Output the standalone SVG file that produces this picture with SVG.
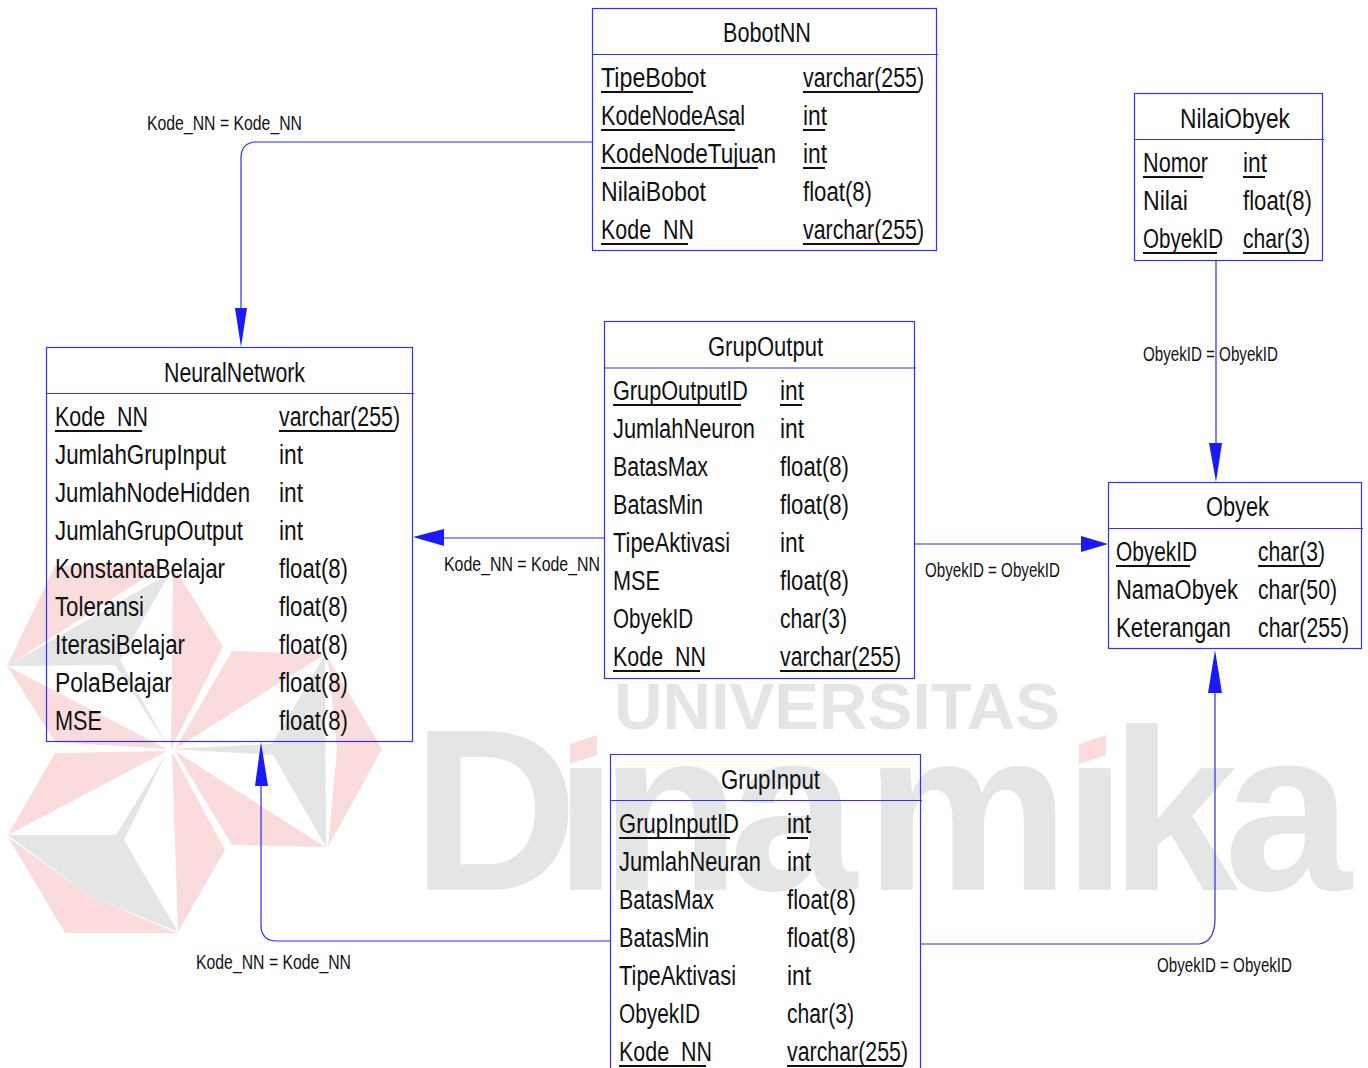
<svg xmlns="http://www.w3.org/2000/svg" width="1368" height="1068" viewBox="0 0 1368 1068">
<style>
text{font-family:"Liberation Sans",Arial,sans-serif;fill:#111}
.t{font-size:27px}
.l{font-size:21px}
.b{fill:none;stroke:#3030ff;stroke-width:1.2}
.u{stroke:#111;stroke-width:2}
.c{fill:none;stroke:#2a2aff;stroke-width:1.2}
.a{fill:#1a1aff;stroke:none}
.p{fill:#fadcdc}
.g{fill:#e4e5e5}
.w{font-family:"Liberation Sans",Arial,sans-serif;font-weight:700;fill:#e4e5e5}
</style>
<defs>
<clipPath id="nodot"><path clip-rule="evenodd" d="M0 0H1368V1068H0ZM560 700H606V766H560ZM1069 700H1115V766H1069Z"/></clipPath>
</defs>
<rect width="1368" height="1068" fill="#fff"/>
<g id="watermark">
<polygon class="p" points="7,666 55,566 165,565"/>
<polygon class="g" points="7,666 170,573 120,660 168,747 115,665"/>
<polygon class="p" points="173,565 223,647 171,749 172,660"/>
<polygon class="p" points="7,666 55,742 167,749"/>
<polygon class="p" points="232,651 325,654 175,749"/>
<polygon class="g" points="325,655 326,847 273,755 171,749 272,744"/>
<polygon class="p" points="328,658 382,749 328,847 337,750"/>
<polygon class="p" points="175,751 325,847 232,845"/>
<polygon class="p" points="55,753 167,751 8,835"/>
<polygon class="g" points="8,835 116,835 167,752 124,840 178,932 88,895"/>
<polygon class="p" points="8,837 88,895 177,933 65,933"/>
<polygon class="p" points="172,752 225,850 178,932"/>
<text class="w" x="614" y="729" font-size="65" textLength="446" lengthAdjust="spacingAndGlyphs">UNIVERSITAS</text>
<text class="w" clip-path="url(#nodot)" y="890" font-size="230" x="412 554 600 729 865 1063 1110 1224">Dinamika</text>
<polygon class="p" points="570,744 597,735 597,755 570,764"/>
<polygon class="p" points="1079,744 1106,735 1106,755 1079,764"/>
</g>
<g id="connectors">
<path class="c" d="M592 142H257Q241 142 241 158V320"/><polygon class="a" points="241,347 235,308 247,308"/>
<path class="c" d="M604 538H440"/><polygon class="a" points="413,537 444,529 444,546"/>
<path class="c" d="M915 544H1085"/><polygon class="a" points="1108,544 1081,536 1081,552"/>
<path class="c" d="M1216 260V450"/><polygon class="a" points="1216,482 1209,443 1222,443"/>
<path class="c" d="M610 941H277Q261 941 261 925V780"/><polygon class="a" points="261,742 255,786 268,786"/>
<path class="c" d="M920 944H1199Q1215 942 1215 918V690"/><polygon class="a" points="1215,650 1208,693 1222,693"/>
<text class="l" x="147" y="130" textLength="155" lengthAdjust="spacingAndGlyphs">Kode_NN = Kode_NN</text>
<text class="l" x="1143" y="361" textLength="135" lengthAdjust="spacingAndGlyphs">ObyekID = ObyekID</text>
<text class="l" x="444" y="571" textLength="156" lengthAdjust="spacingAndGlyphs">Kode_NN = Kode_NN</text>
<text class="l" x="925" y="577" textLength="135" lengthAdjust="spacingAndGlyphs">ObyekID = ObyekID</text>
<text class="l" x="196" y="969" textLength="155" lengthAdjust="spacingAndGlyphs">Kode_NN = Kode_NN</text>
<text class="l" x="1157" y="972" textLength="135" lengthAdjust="spacingAndGlyphs">ObyekID = ObyekID</text>
</g>
<g id="BobotNN">
<rect class="b" x="592.5" y="8.5" width="344" height="242"/><path class="b" d="M592 54.5H938"/>
<text class="t" x="723" y="42" textLength="88" lengthAdjust="spacingAndGlyphs">BobotNN</text>
<text class="t" x="601" y="87" textLength="105" lengthAdjust="spacingAndGlyphs">TipeBobot</text><text class="t" x="803" y="87" textLength="121" lengthAdjust="spacingAndGlyphs">varchar(255)</text>
<text class="t" x="601" y="125" textLength="144" lengthAdjust="spacingAndGlyphs">KodeNodeAsal</text><text class="t" x="803" y="125" textLength="24" lengthAdjust="spacingAndGlyphs">int</text>
<text class="t" x="601" y="163" textLength="175" lengthAdjust="spacingAndGlyphs">KodeNodeTujuan</text><text class="t" x="803" y="163" textLength="24" lengthAdjust="spacingAndGlyphs">int</text>
<text class="t" x="601" y="201" textLength="105" lengthAdjust="spacingAndGlyphs">NilaiBobot</text><text class="t" x="803" y="201" textLength="69" lengthAdjust="spacingAndGlyphs">float(8)</text>
<text class="t" x="601" y="239" textLength="93" lengthAdjust="spacingAndGlyphs">Kode_NN</text><text class="t" x="803" y="239" textLength="121" lengthAdjust="spacingAndGlyphs">varchar(255)</text>
<path class="u" d="M601 92H693M803 92H918M601 130H735M803 130H825M601 168H758M803 168H825M601 244H688M803 244H918"/>
</g>
<g id="NeuralNetwork">
<rect class="b" x="46.5" y="347.5" width="366" height="394"/><path class="b" d="M46 393.5H414"/>
<text class="t" x="164" y="382" textLength="141" lengthAdjust="spacingAndGlyphs">NeuralNetwork</text>
<text class="t" x="55" y="426" textLength="93" lengthAdjust="spacingAndGlyphs">Kode_NN</text><text class="t" x="279" y="426" textLength="121" lengthAdjust="spacingAndGlyphs">varchar(255)</text>
<text class="t" x="55" y="464" textLength="171" lengthAdjust="spacingAndGlyphs">JumlahGrupInput</text><text class="t" x="279" y="464" textLength="24" lengthAdjust="spacingAndGlyphs">int</text>
<text class="t" x="55" y="502" textLength="195" lengthAdjust="spacingAndGlyphs">JumlahNodeHidden</text><text class="t" x="279" y="502" textLength="24" lengthAdjust="spacingAndGlyphs">int</text>
<text class="t" x="55" y="540" textLength="188" lengthAdjust="spacingAndGlyphs">JumlahGrupOutput</text><text class="t" x="279" y="540" textLength="24" lengthAdjust="spacingAndGlyphs">int</text>
<text class="t" x="55" y="578" textLength="170" lengthAdjust="spacingAndGlyphs">KonstantaBelajar</text><text class="t" x="279" y="578" textLength="69" lengthAdjust="spacingAndGlyphs">float(8)</text>
<text class="t" x="55" y="616" textLength="89" lengthAdjust="spacingAndGlyphs">Toleransi</text><text class="t" x="279" y="616" textLength="69" lengthAdjust="spacingAndGlyphs">float(8)</text>
<text class="t" x="55" y="654" textLength="130" lengthAdjust="spacingAndGlyphs">IterasiBelajar</text><text class="t" x="279" y="654" textLength="69" lengthAdjust="spacingAndGlyphs">float(8)</text>
<text class="t" x="55" y="692" textLength="117" lengthAdjust="spacingAndGlyphs">PolaBelajar</text><text class="t" x="279" y="692" textLength="69" lengthAdjust="spacingAndGlyphs">float(8)</text>
<text class="t" x="55" y="730" textLength="47" lengthAdjust="spacingAndGlyphs">MSE</text><text class="t" x="279" y="730" textLength="69" lengthAdjust="spacingAndGlyphs">float(8)</text>
<path class="u" d="M55 431H142M279 431H394"/>
</g>
<g id="GrupOutput">
<rect class="b" x="604.5" y="321.5" width="310" height="357"/><path class="b" d="M604 368H916"/>
<text class="t" x="708" y="356" textLength="115" lengthAdjust="spacingAndGlyphs">GrupOutput</text>
<text class="t" x="613" y="400" textLength="135" lengthAdjust="spacingAndGlyphs">GrupOutputID</text><text class="t" x="780" y="400" textLength="24" lengthAdjust="spacingAndGlyphs">int</text>
<text class="t" x="613" y="438" textLength="142" lengthAdjust="spacingAndGlyphs">JumlahNeuron</text><text class="t" x="780" y="438" textLength="24" lengthAdjust="spacingAndGlyphs">int</text>
<text class="t" x="613" y="476" textLength="95" lengthAdjust="spacingAndGlyphs">BatasMax</text><text class="t" x="780" y="476" textLength="69" lengthAdjust="spacingAndGlyphs">float(8)</text>
<text class="t" x="613" y="514" textLength="90" lengthAdjust="spacingAndGlyphs">BatasMin</text><text class="t" x="780" y="514" textLength="69" lengthAdjust="spacingAndGlyphs">float(8)</text>
<text class="t" x="613" y="552" textLength="117" lengthAdjust="spacingAndGlyphs">TipeAktivasi</text><text class="t" x="780" y="552" textLength="24" lengthAdjust="spacingAndGlyphs">int</text>
<text class="t" x="613" y="590" textLength="47" lengthAdjust="spacingAndGlyphs">MSE</text><text class="t" x="780" y="590" textLength="69" lengthAdjust="spacingAndGlyphs">float(8)</text>
<text class="t" x="613" y="628" textLength="80" lengthAdjust="spacingAndGlyphs">ObyekID</text><text class="t" x="780" y="628" textLength="67" lengthAdjust="spacingAndGlyphs">char(3)</text>
<text class="t" x="613" y="666" textLength="93" lengthAdjust="spacingAndGlyphs">Kode_NN</text><text class="t" x="780" y="666" textLength="121" lengthAdjust="spacingAndGlyphs">varchar(255)</text>
<path class="u" d="M613 405H741M780 405H802M613 671H700M780 671H895"/>
</g>
<g id="NilaiObyek">
<rect class="b" x="1134.5" y="93.5" width="188" height="167"/><path class="b" d="M1134 139.5H1324"/>
<text class="t" x="1180" y="128" textLength="110" lengthAdjust="spacingAndGlyphs">NilaiObyek</text>
<text class="t" x="1143" y="172" textLength="65" lengthAdjust="spacingAndGlyphs">Nomor</text><text class="t" x="1243" y="172" textLength="24" lengthAdjust="spacingAndGlyphs">int</text>
<text class="t" x="1143" y="210" textLength="45" lengthAdjust="spacingAndGlyphs">Nilai</text><text class="t" x="1243" y="210" textLength="69" lengthAdjust="spacingAndGlyphs">float(8)</text>
<text class="t" x="1143" y="248" textLength="80" lengthAdjust="spacingAndGlyphs">ObyekID</text><text class="t" x="1243" y="248" textLength="67" lengthAdjust="spacingAndGlyphs">char(3)</text>
<path class="u" d="M1143 177H1203M1243 177H1265M1143 253H1217M1243 253H1305"/>
</g>
<g id="Obyek">
<rect class="b" x="1108.5" y="482.5" width="253" height="166"/><path class="b" d="M1108 528.5H1363"/>
<text class="t" x="1206" y="516" textLength="63" lengthAdjust="spacingAndGlyphs">Obyek</text>
<text class="t" x="1116" y="561" textLength="81" lengthAdjust="spacingAndGlyphs">ObyekID</text><text class="t" x="1258" y="561" textLength="67" lengthAdjust="spacingAndGlyphs">char(3)</text>
<text class="t" x="1116" y="599" textLength="122" lengthAdjust="spacingAndGlyphs">NamaObyek</text><text class="t" x="1258" y="599" textLength="79" lengthAdjust="spacingAndGlyphs">char(50)</text>
<text class="t" x="1116" y="637" textLength="115" lengthAdjust="spacingAndGlyphs">Keterangan</text><text class="t" x="1258" y="637" textLength="91" lengthAdjust="spacingAndGlyphs">char(255)</text>
<path class="u" d="M1116 566H1190M1258 566H1320"/>
</g>
<g id="GrupInput">
<path class="b" d="M610.5 1068V754.5H920.5V1068M610 800.5H922"/>
<text class="t" x="721" y="789" textLength="99" lengthAdjust="spacingAndGlyphs">GrupInput</text>
<text class="t" x="619" y="833" textLength="120" lengthAdjust="spacingAndGlyphs">GrupInputID</text><text class="t" x="787" y="833" textLength="24" lengthAdjust="spacingAndGlyphs">int</text>
<text class="t" x="619" y="871" textLength="142" lengthAdjust="spacingAndGlyphs">JumlahNeuran</text><text class="t" x="787" y="871" textLength="24" lengthAdjust="spacingAndGlyphs">int</text>
<text class="t" x="619" y="909" textLength="95" lengthAdjust="spacingAndGlyphs">BatasMax</text><text class="t" x="787" y="909" textLength="69" lengthAdjust="spacingAndGlyphs">float(8)</text>
<text class="t" x="619" y="947" textLength="90" lengthAdjust="spacingAndGlyphs">BatasMin</text><text class="t" x="787" y="947" textLength="69" lengthAdjust="spacingAndGlyphs">float(8)</text>
<text class="t" x="619" y="985" textLength="117" lengthAdjust="spacingAndGlyphs">TipeAktivasi</text><text class="t" x="787" y="985" textLength="24" lengthAdjust="spacingAndGlyphs">int</text>
<text class="t" x="619" y="1023" textLength="81" lengthAdjust="spacingAndGlyphs">ObyekID</text><text class="t" x="787" y="1023" textLength="67" lengthAdjust="spacingAndGlyphs">char(3)</text>
<text class="t" x="619" y="1061" textLength="93" lengthAdjust="spacingAndGlyphs">Kode_NN</text><text class="t" x="787" y="1061" textLength="121" lengthAdjust="spacingAndGlyphs">varchar(255)</text>
<path class="u" d="M619 838H730M787 838H808M619 1066H706M787 1066H902"/>
</g>
</svg>
